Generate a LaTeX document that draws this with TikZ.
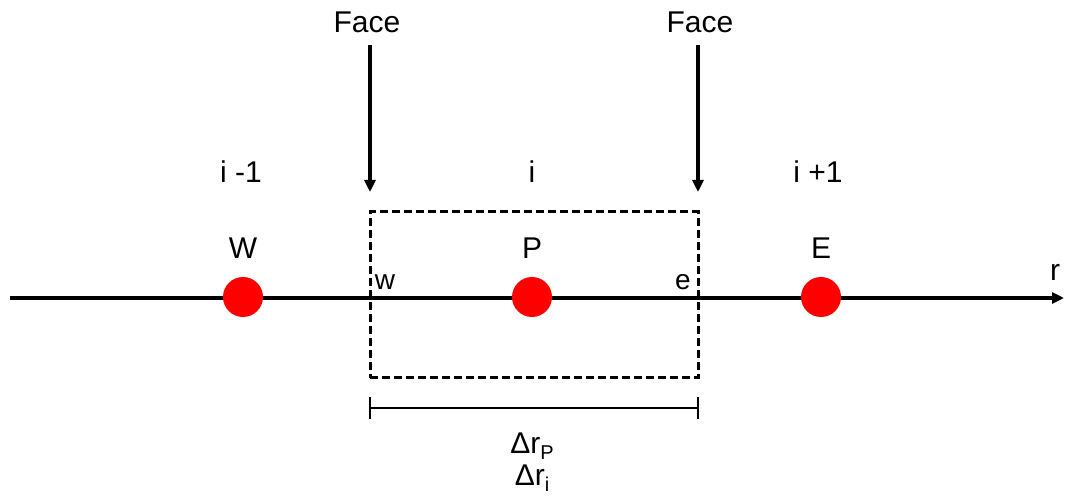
\documentclass[tikz,border=0pt]{standalone}
\usepackage{fontspec}
\setmainfont{Liberation Sans}
\usetikzlibrary{arrows.meta}
\begin{document}
\begin{tikzpicture}[x=1pt,y=-1pt,
  lbl/.style={font=\fontsize{30}{33}\selectfont, inner sep=0pt},
  sm/.style={font=\fontsize{28}{31}\selectfont, inner sep=0pt},
  pt/.style={circle, fill=red, minimum size=40pt, inner sep=0pt},
  arr/.style={line width=3.2pt, -{Triangle[length=12pt,width=11pt]}},
  dim/.style={line width=2pt}]
\useasboundingbox (0,0) rectangle (1066,502);
% axis
\coordinate (a0) at (10,298);
\coordinate (a1) at (1064,298);
\draw[arr] (a0) -- (a1);
\node[lbl] (r) at (1055,272) {r};
% control volume
\node[draw, line width=3pt, dash pattern=on 8pt off 4pt, minimum width=328pt, minimum height=166pt, inner sep=0pt] (cv) at (534,295) {};
% nodes
\node[pt] (W) at (243,297) {};
\node[pt] (P) at (532,297) {};
\node[pt] (E) at (821,297) {};
\node[lbl] (Wl) at (243,248) {W};
\node[lbl] (Pl) at (532,248) {P};
\node[lbl] (El) at (821,248) {E};
\node[sm] (wl) at (385,282) {w};
\node[sm] (el) at (683,282) {e};
% indices
\node[lbl] (im) at (241,172) {i -1};
\node[lbl] (ii) at (532,172) {i};
\node[lbl] (ip) at (818,172) {i +1};
% faces
\node[lbl] (f1) at (367,22) {Face};
\node[lbl] (f2) at (700,22) {Face};
\coordinate (f1e) at (370,192);
\coordinate (f2e) at (698,192);
\draw[arr] (370,45) -- (f1e);
\draw[arr] (698,45) -- (f2e);
% dimension
\coordinate (d0) at (370,408);
\coordinate (d1) at (698,408);
\draw[dim] (d0) -- (d1);
\draw[dim] (370,397) -- (370,419);
\draw[dim] (698,397) -- (698,419);
\node[lbl] (dp) at (532,446) {Δr\raisebox{-6pt}{\fontsize{20}{22}\selectfont P}};
\node[lbl] (di) at (532,478) {Δr\raisebox{-6pt}{\fontsize{20}{22}\selectfont i}};
\end{tikzpicture}
\end{document}
